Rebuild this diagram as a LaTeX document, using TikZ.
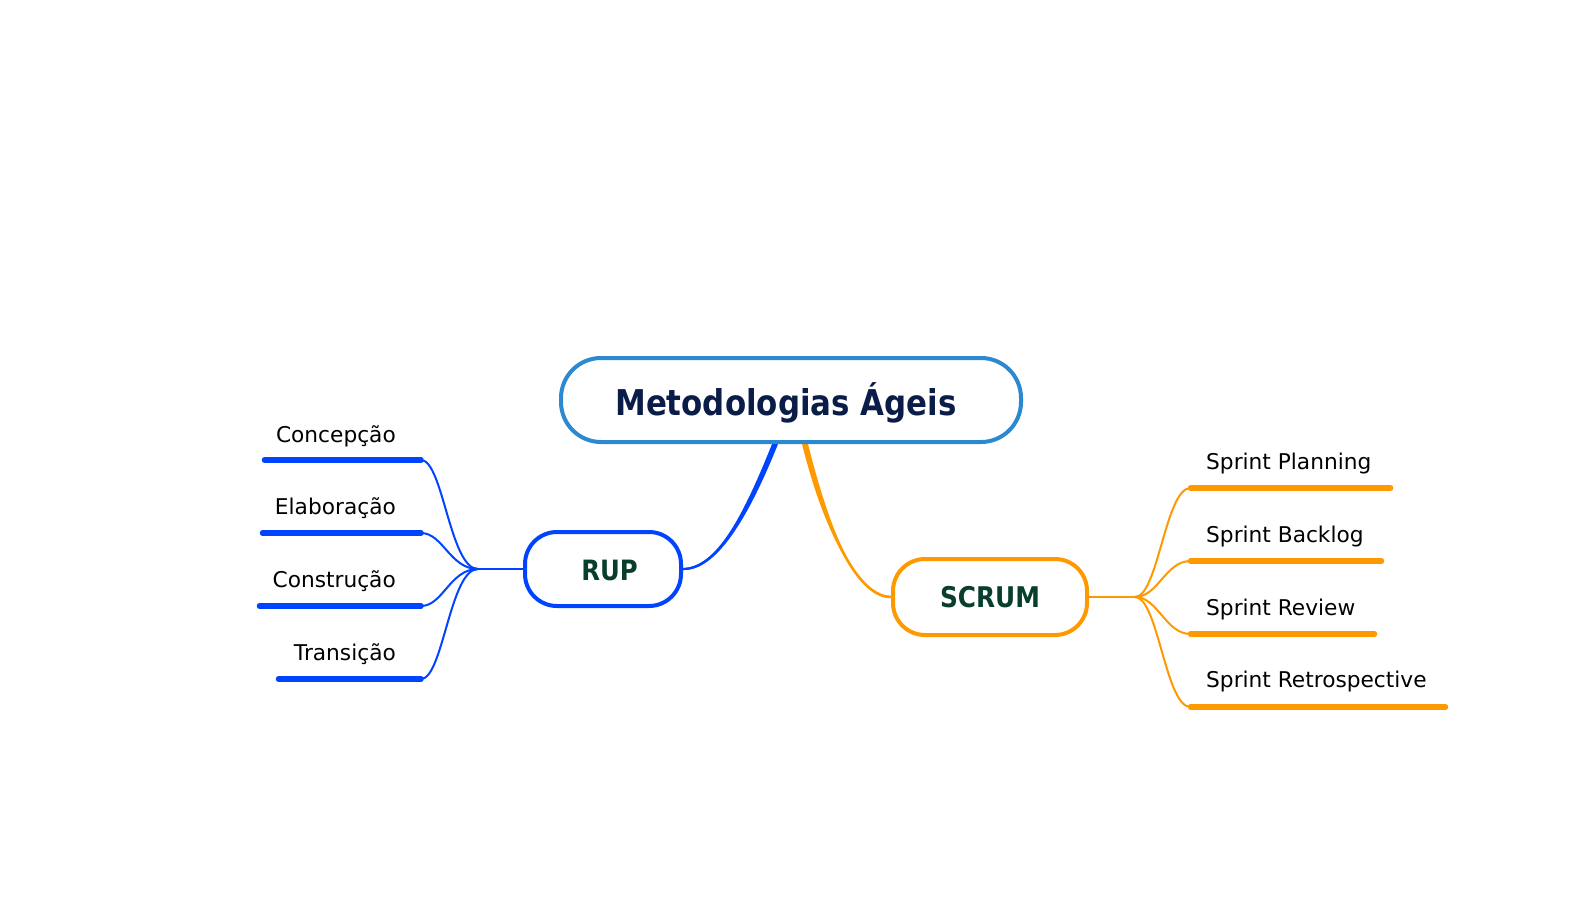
\documentclass[tikz,border=0pt]{standalone}
\usepackage{fontspec}
\setmainfont{DejaVu Sans}
\newfontfamily\headfont[FakeStretch=0.87]{DejaVu Sans}
\usetikzlibrary{calc,backgrounds}
\definecolor{mainblue}{RGB}{43,138,207}
\definecolor{rupblue}{RGB}{0,68,255}
\definecolor{scrumorange}{RGB}{255,153,0}
\definecolor{titlenavy}{RGB}{10,28,72}
\definecolor{nodegreen}{RGB}{8,62,45}
\tikzset{
  mainnode/.style={draw=mainblue, line width=4pt, fill=white, rounded corners=40pt,
    minimum width=460pt, minimum height=84pt, inner sep=0pt, text=titlenavy,
    font=\headfont\bfseries\fontsize{35.5}{40}\selectfont, text height=30pt, text depth=0pt},
  subnode/.style={line width=4pt, fill=white, rounded corners=32pt, inner sep=0pt,
    text=nodegreen, text depth=0pt},
  leaftext/.style={inner sep=0pt, font=\fontsize{21.7}{26}\selectfont, text=black},
  underline/.style={line width=5.5pt, line cap=round},
  twig/.style={line width=2pt},
}
\begin{document}
\begin{tikzpicture}[x=1pt,y=-1pt]
\useasboundingbox (0,0) rectangle (1590,904);
% main nodes
\node[mainnode] (main) at (791,400) {\hspace*{-10pt}Metodologias Ágeis};
\node[subnode, draw=rupblue, minimum width=156pt, minimum height=74pt,
  font=\headfont\bfseries\fontsize{28}{32}\selectfont, text height=22pt] (rup) at (603,569) {\hspace*{13pt}RUP};
\node[subnode, draw=scrumorange, minimum width=194pt, minimum height=76pt,
  font=\headfont\bfseries\fontsize{28.5}{33}\selectfont, text height=20pt] (scrum) at (990,597) {SCRUM};

% tapered main connectors
\begin{scope}[on background layer]
\fill[rupblue] ($(main.south)+(-19,0)$) .. controls +(-30,75) and +(33,-1) .. ($(rup.east)+(0,-1)$)
  -- ($(rup.east)+(0,1)$) .. controls +(33,1) and +(-30,75) .. ($(main.south)+(-13,0)$) -- cycle;
\draw[rupblue, line width=2.2pt] ($(main.south)+(-16,0)$) .. controls +(-30,75) and +(33,0) .. (rup.east);
\fill[scrumorange] ($(main.south)+(11,0)$) .. controls +(25,100) and +(-30,-1) .. ($(scrum.west)+(0,-1)$)
  -- ($(scrum.west)+(0,1)$) .. controls +(-30,1) and +(25,100) .. ($(main.south)+(17,0)$) -- cycle;
\draw[scrumorange, line width=2.6pt] ($(main.south)+(14,0)$) .. controls +(25,100) and +(-30,0) .. (scrum.west);
\end{scope}

% RUP branch
\coordinate (rhub) at (478,569);
\draw[rupblue, twig] (rup.west) -- (rhub);
\coordinate (c1s) at (264.5,460); \coordinate (c1e) at (421,460);
\coordinate (c2s) at (262.5,533); \coordinate (c2e) at (421,533);
\coordinate (c3s) at (259.5,606); \coordinate (c3e) at (421,606);
\coordinate (c4s) at (278.5,679); \coordinate (c4e) at (421,679);
\foreach \i in {1,2,3,4}{
  \draw[rupblue, underline] (c\i s) -- (c\i e);
  \draw[rupblue, twig] (c\i e) .. controls +(22,0) and +(-28,0) .. (rhub);
}
\node[leaftext, anchor=base east] (t1) at (396,442) {Concepção};
\node[leaftext, anchor=base east] (t2) at (396,514) {Elaboração};
\node[leaftext, anchor=base east] (t3) at (396,587) {Construção};
\node[leaftext, anchor=base east] (t4) at (396,660) {Transição};

% SCRUM branch
\coordinate (shub) at (1135,597);
\draw[scrumorange, twig] (scrum.east) -- (shub);
\coordinate (s1s) at (1190.5,488); \coordinate (s1e) at (1390.5,488);
\coordinate (s2s) at (1190.5,561); \coordinate (s2e) at (1381.5,561);
\coordinate (s3s) at (1190.5,634); \coordinate (s3e) at (1374.5,634);
\coordinate (s4s) at (1190.5,707); \coordinate (s4e) at (1445.5,707);
\foreach \i in {1,2,3,4}{
  \draw[scrumorange, underline] (s\i s) -- (s\i e);
  \draw[scrumorange, twig] (shub) .. controls +(23,0) and +(-25,0) .. (s\i s);
}
\node[leaftext, anchor=base west] (u1) at (1206,469) {Sprint Planning};
\node[leaftext, anchor=base west] (u2) at (1206,542) {Sprint Backlog};
\node[leaftext, anchor=base west] (u3) at (1206,615) {Sprint Review};
\node[leaftext, anchor=base west] (u4) at (1206,687) {Sprint Retrospective};
\end{tikzpicture}
\end{document}
